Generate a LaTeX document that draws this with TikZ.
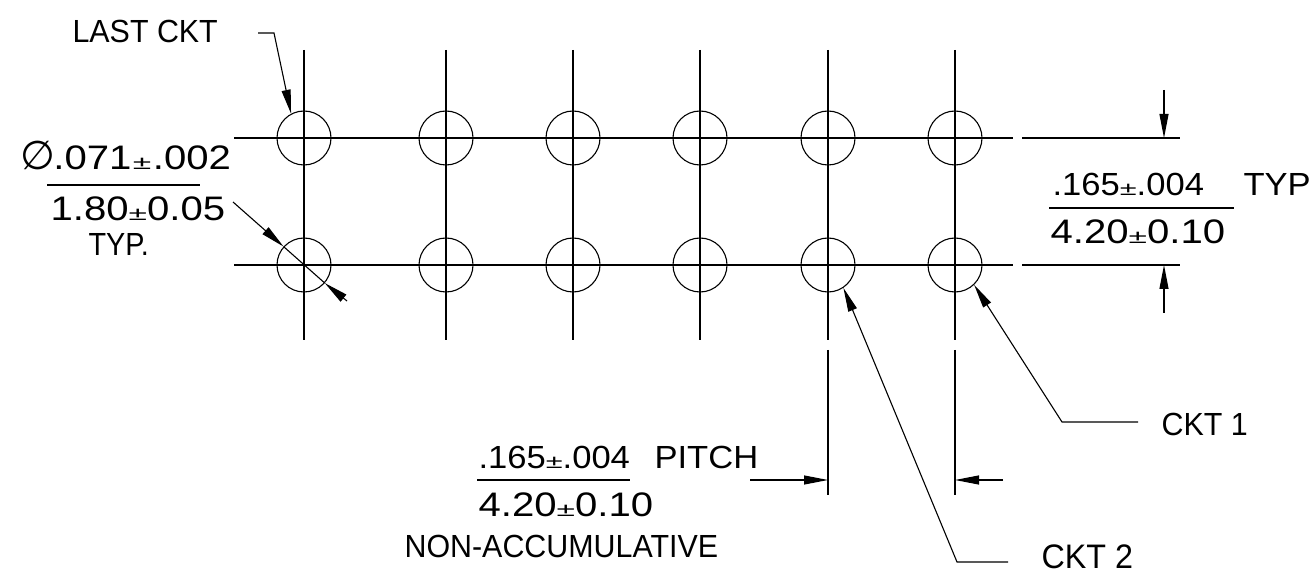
\documentclass[tikz,border=0pt]{standalone}
\usepackage{fontspec}
\setmainfont{Liberation Sans}
\newfontfamily\narrowfont[FakeStretch=0.95]{Liberation Sans}
\newfontfamily\slimfont[FakeStretch=0.9]{Liberation Sans}
\newfontfamily\midfont[FakeStretch=1.08]{Liberation Sans}
\newfontfamily\widefont[FakeStretch=1.18]{Liberation Sans}
\newfontfamily\symfont{DejaVu Sans}
\usetikzlibrary{arrows.meta}
\newcommand{\tol}{\scalebox{1.5}[1]{\fontsize{19}{19}\selectfont ±}}
\tikzset{
lbl/.style={anchor=base west, inner sep=0pt, font=\fontsize{32}{32}\selectfont\narrowfont},
lblslim/.style={lbl, font=\fontsize{32}{32}\selectfont\slimfont},
lblmid/.style={lbl, font=\fontsize{32}{32}\selectfont\midfont},
lblwide/.style={lbl, font=\fontsize{34}{34}\selectfont\widefont},
hole/.style={draw, circle, minimum size=54pt, inner sep=0pt},
leader/.style={-{Triangle[length=24pt,width=9pt]}},
}
\begin{document}
\begin{tikzpicture}[x=1pt, y=-1pt, line width=1.1pt]
\useasboundingbox (0,0) rectangle (1315,569);
% holes and center lines
\foreach \xc/\nm in {304/a, 446/b, 573/c, 700/d, 828/e, 955/f} {
  \node[hole] (top\nm) at (\xc,138) {};
  \node[hole] (bot\nm) at (\xc,265) {};
}
\foreach \xc in {304, 446, 573, 700, 828, 955} \draw (\xc,50) -- (\xc,340);
\foreach \yc in {138, 265} {
  \draw (234,\yc) -- (1013,\yc);
  \draw (1022,\yc) -- (1180,\yc);
}
\draw (828,350) -- (828,495);
\draw (955,350) -- (955,495);
% labels
\node[lbl] (lastckt) at (72,43) {LAST CKT};
\node[lblwide] (diatop) at (20,170) {{\symfont\fontsize{40}{40}\selectfont ∅}\hspace{-2pt}.071\hspace{1.5pt}\tol\hspace{1.5pt}.002};
\node[lblwide] (diabot) at (50,221) {1.80\tol0.05};
\node[lblslim] (diatyp) at (88,256) {TYP.};
\node[lblmid] (rowtop) at (1052,196) {.165\tol.004};
\node[lblmid] (rowtyp) at (1243,196) {TYP};
\node[lblwide] (rowbot) at (1050,244) {4.20\tol0.10};
\node[lbl] (ckta) at (1161,435) {CKT 1};
\node[lblmid] (pitchtop) at (478,468) {.165\tol.004};
\node[lblmid] (pitchtxt) at (654,468) {PITCH};
\node[lblwide] (pitchbot) at (478,516) {4.20\tol0.10};
\node[lbl] (nonacc) at (404,557) {NON-ACCUMULATIVE};
\node[lbl, font=\fontsize{34}{34}\selectfont\narrowfont] (cktb) at (1041,568) {CKT 2};
% fraction bars
\draw (47,185) -- (200,185);
\draw (1049,208) -- (1234,208);
\draw (477,480) -- (630,480);
% leaders
\coordinate (lastbend) at (274,33);
\coordinate (lastend) at (258,33);
\draw[leader] (lastend) -- (lastbend) -- (topa.118);
\coordinate (diaouter) at (233,202);
\coordinate (diainner) at (347,301);
\draw[leader] (diaouter) -- (bota.138);
\draw[leader] (diainner) -- (bota.-41);
\draw (bota.138) -- (bota.-41);
\coordinate (ckt1bend) at (1062,422);
\coordinate (ckt1end) at (1138,422);
\draw[leader] (ckt1end) -- (ckt1bend) -- (botf.-46);
\coordinate (ckt2bend) at (957,562);
\coordinate (ckt2end) at (1008,562);
\draw[leader] (ckt2end) -- (ckt2bend) -- (bote.-56);
% dimension arrows
\coordinate (rowa) at (1164,90);
\coordinate (rowb) at (1164,138);
\coordinate (rowc) at (1164,313);
\coordinate (rowd) at (1164,265);
\draw[leader] (rowa) -- (rowb);
\draw[leader] (rowc) -- (rowd);
\coordinate (pitcha) at (750,480);
\coordinate (pitchb) at (828,480);
\coordinate (pitchc) at (1003,480);
\coordinate (pitchd) at (955,480);
\draw[leader] (pitcha) -- (pitchb);
\draw[leader] (pitchc) -- (pitchd);
\end{tikzpicture}
\end{document}
